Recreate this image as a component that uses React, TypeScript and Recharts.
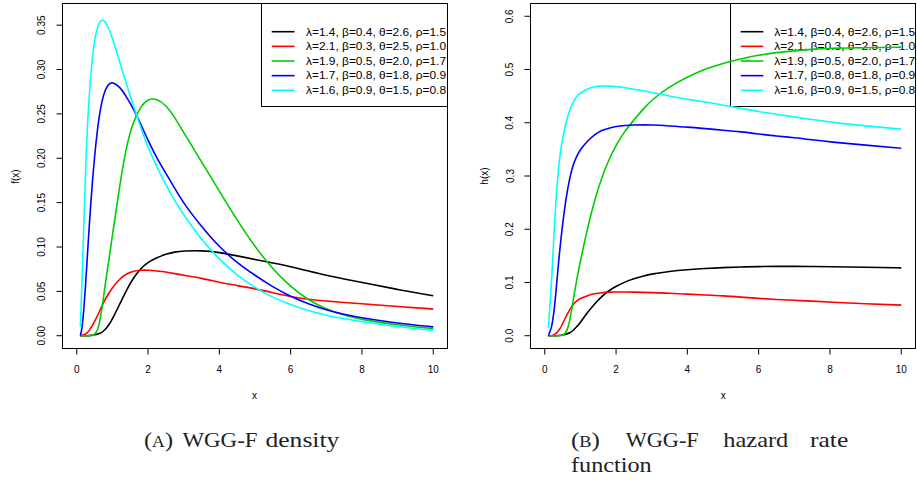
import React from 'react';
import { LineChart, Line, XAxis, YAxis, ReferenceArea } from 'recharts';

// sample positions on the x axis
const xs = [0.1, 0.15, 0.2, 0.25, 0.3, 0.4, 0.5, 0.6, 0.7, 0.8, 0.9, 1.0, 1.2, 1.4, 1.6, 1.8, 2.0, 2.25, 2.5, 2.75, 3.0, 3.5, 4.0, 4.5, 5.0, 5.5, 6.0, 6.5, 7.0, 7.5, 8.0, 9.0, 10.0];

// (A) density values
const fBlack = [0, 0, 0, 0, 0, 0.0003, 0.001, 0.002, 0.0035, 0.007, 0.012, 0.019, 0.035, 0.052, 0.066, 0.076, 0.083, 0.088, 0.092, 0.0945, 0.0955, 0.096, 0.094, 0.09, 0.086, 0.082, 0.078, 0.073, 0.068, 0.064, 0.06, 0.052, 0.045];
const fRed = [0, 0.0003, 0.001, 0.002, 0.003, 0.009, 0.016, 0.024, 0.033, 0.041, 0.048, 0.054, 0.064, 0.07, 0.073, 0.074, 0.074, 0.073, 0.072, 0.07, 0.068, 0.065, 0.06, 0.0565, 0.053, 0.0485, 0.044, 0.041, 0.039, 0.0375, 0.036, 0.033, 0.03];
const fGreen = [0, 0, 0, 0, 0, 0, 0.001, 0.006, 0.028, 0.058, 0.085, 0.113, 0.168, 0.216, 0.243, 0.259, 0.267, 0.267, 0.26, 0.246, 0.229, 0.196, 0.163, 0.13, 0.1, 0.075, 0.055, 0.04, 0.03, 0.023, 0.018, 0.012, 0.008];
const fBlue = [0, 0.008, 0.03, 0.058, 0.092, 0.155, 0.203, 0.24, 0.264, 0.278, 0.284, 0.286, 0.281, 0.269, 0.255, 0.238, 0.22, 0.2, 0.183, 0.166, 0.149, 0.123, 0.1, 0.082, 0.068, 0.055, 0.044, 0.036, 0.029, 0.024, 0.02, 0.014, 0.01];
const fCyan = [0.01, 0.06, 0.13, 0.19, 0.24, 0.3, 0.335, 0.351, 0.357, 0.354, 0.346, 0.336, 0.309, 0.283, 0.258, 0.234, 0.212, 0.19, 0.17, 0.152, 0.136, 0.108, 0.086, 0.068, 0.054, 0.043, 0.035, 0.028, 0.023, 0.019, 0.016, 0.01, 0.006];

// (B) hazard rate values
const hBlack = [0, 0, 0, 0, 0, 0.0005, 0.001, 0.003, 0.005, 0.01, 0.017, 0.025, 0.044, 0.06, 0.074, 0.085, 0.093, 0.101, 0.107, 0.112, 0.116, 0.121, 0.124, 0.1265, 0.128, 0.129, 0.13, 0.1302, 0.1302, 0.13, 0.1295, 0.1285, 0.1275];
const hRed = [0, 0, 0.0005, 0.001, 0.003, 0.01, 0.022, 0.037, 0.049, 0.059, 0.066, 0.07, 0.0755, 0.079, 0.081, 0.082, 0.0822, 0.0822, 0.082, 0.0815, 0.081, 0.08, 0.078, 0.0765, 0.075, 0.0725, 0.07, 0.068, 0.0665, 0.065, 0.063, 0.06, 0.0575];
const hGreen = [0, 0, 0, 0, 0, 0, 0, 0.005, 0.025, 0.068, 0.107, 0.14, 0.203, 0.255, 0.298, 0.331, 0.358, 0.385, 0.405, 0.425, 0.443, 0.468, 0.486, 0.501, 0.512, 0.52, 0.527, 0.532, 0.535, 0.538, 0.54, 0.541, 0.542];
const hBlue = [0, 0.008, 0.018, 0.04, 0.07, 0.149, 0.21, 0.26, 0.297, 0.322, 0.338, 0.35, 0.366, 0.378, 0.386, 0.39, 0.393, 0.395, 0.396, 0.396, 0.396, 0.394, 0.392, 0.389, 0.386, 0.383, 0.379, 0.375, 0.372, 0.368, 0.364, 0.358, 0.352];
const hCyan = [0.014, 0.06, 0.11, 0.18, 0.245, 0.33, 0.372, 0.403, 0.424, 0.44, 0.45, 0.456, 0.464, 0.468, 0.469, 0.469, 0.468, 0.466, 0.463, 0.46, 0.457, 0.45, 0.444, 0.439, 0.433, 0.427, 0.421, 0.416, 0.411, 0.406, 0.401, 0.394, 0.388];

const seriesLabels = [
  'λ=1.4, β=0.4, θ=2.6, ρ=1.5',
  'λ=2.1, β=0.3, θ=2.5, ρ=1.0',
  'λ=1.9, β=0.5, θ=2.0, ρ=1.7',
  'λ=1.7, β=0.8, θ=1.8, ρ=0.9',
  'λ=1.6, β=0.9, θ=1.5, ρ=0.8',
];
const seriesColors = ['#000000', '#FF0000', '#00CD00', '#0000FF', '#00FFFF'];
const seriesKeys = ['s0', 's1', 's2', 's3', 's4'];

const xTicks = [0, 2, 4, 6, 8, 10];
const xDomain = [-0.4, 10.4];
const fTicks = [0, 0.05, 0.1, 0.15, 0.2, 0.25, 0.3, 0.35];
const fDomain = [-0.0144, 0.3744];
const hTicks = [0, 0.1, 0.2, 0.3, 0.4, 0.5, 0.6];
const hDomain = [-0.024, 0.624];

const fSeries = [fBlack, fRed, fGreen, fBlue, fCyan];
const hSeries = [hBlack, hRed, hGreen, hBlue, hCyan];

const buildData = (series: number[][]) =>
  xs.map((x, i) => {
    const row: Record<string, number> = { x };
    series.forEach((s, k) => {
      row[seriesKeys[k]] = s[i];
    });
    return row;
  });

const fData = buildData(fSeries);
const hData = buildData(hSeries);

const SANS = '"Liberation Sans", Arial, Helvetica, sans-serif';
const SERIF = '"Liberation Serif", "Times New Roman", serif';

const XTick = (props: any) => {
  const { x, y, payload } = props;
  return (
    <text x={x} y={y + 16.4} textAnchor="middle" fontSize={10} fontFamily={SANS} fill="#000">
      {String(payload.value)}
    </text>
  );
};

const makeYTick = (digits: number) => (props: any) => {
  const { x, y, payload } = props;
  const bx = x - 9;
  return (
    <text
      x={bx}
      y={y}
      transform={`rotate(-90 ${bx} ${y})`}
      textAnchor="middle"
      fontSize={10}
      fontFamily={SANS}
      fill="#000"
    >
      {Number(payload.value).toFixed(digits)}
    </text>
  );
};

const FTick = makeYTick(2);
const HTick = makeYTick(1);

type PanelProps = {
  data: Record<string, number>[];
  width: number;
  height: number;
  yAxisWidth: number;
  marginRight: number;
  yTicks: number[];
  yDomain: number[];
  tick: (p: any) => React.ReactElement;
};

const Panel = ({ data, width, height, yAxisWidth, marginRight, yTicks, yDomain, tick }: PanelProps) => (
  <LineChart width={width} height={height} data={data} margin={{ top: 3.5, right: marginRight, bottom: 0, left: 0 }}>
    <XAxis
      dataKey="x"
      type="number"
      domain={xDomain}
      ticks={xTicks}
      interval={0}
      allowDataOverflow
      height={51.5}
      tickSize={6}
      axisLine={{ stroke: '#000' }}
      tickLine={{ stroke: '#000' }}
      tick={(p: any) => <XTick {...p} />}
    />
    <YAxis
      type="number"
      domain={yDomain}
      ticks={yTicks}
      interval={0}
      allowDataOverflow
      width={yAxisWidth}
      tickSize={6}
      axisLine={{ stroke: '#000' }}
      tickLine={{ stroke: '#000' }}
      tick={(p: any) => tick(p)}
    />
    <ReferenceArea
      x1={xDomain[0]}
      x2={xDomain[1]}
      y1={yDomain[0]}
      y2={yDomain[1]}
      fill="none"
      fillOpacity={0}
      stroke="#000"
      strokeWidth={1}
      ifOverflow="visible"
    />
    {seriesKeys.map((k, i) => (
      <Line
        key={k}
        dataKey={k}
        type="basis"
        stroke={seriesColors[i]}
        strokeWidth={1.6}
        dot={false}
        activeDot={false}
        isAnimationActive={false}
      />
    ))}
  </LineChart>
);

const rowY = [31.7, 46.35, 61, 75.65, 90.3];

export default function App() {
  return (
    <div style={{ position: 'absolute', left: 0, top: 0, width: 917, height: 480, background: '#fff', overflow: 'hidden' }}>
      <svg width={917} height={480} style={{ position: 'absolute', left: 0, top: 0 }}>
        {/* legends */}
        <rect x={261.5} y={3.5} width={186} height={103} fill="none" stroke="#000" strokeWidth={1} />
        {seriesLabels.map((lab, i) => (
          <g key={'l' + i}>
            <line x1={271.7} x2={294.5} y1={rowY[i]} y2={rowY[i]} stroke={seriesColors[i]} strokeWidth={1.6} />
            <text x={306} y={rowY[i] + 3.8} fontSize={11} fontFamily={SANS} fill="#000" textLength={140} lengthAdjust="spacingAndGlyphs">
              {lab}
            </text>
          </g>
        ))}
        <rect x={730.5} y={3.5} width={185} height={103} fill="none" stroke="#000" strokeWidth={1} />
        {seriesLabels.map((lab, i) => (
          <g key={'r' + i}>
            <line x1={740.7} x2={763.3} y1={rowY[i]} y2={rowY[i]} stroke={seriesColors[i]} strokeWidth={1.6} />
            <text x={774.3} y={rowY[i] + 3.8} fontSize={11} fontFamily={SANS} fill="#000" textLength={141} lengthAdjust="spacingAndGlyphs">
              {lab}
            </text>
          </g>
        ))}
        {/* axis titles */}
        <text x={254.5} y={398.7} textAnchor="middle" fontSize={10} fontFamily={SANS} fill="#000">x</text>
        <text x={723.3} y={398.7} textAnchor="middle" fontSize={10} fontFamily={SANS} fill="#000">x</text>
        <text x={19} y={176.5} transform="rotate(-90 19 176.5)" textAnchor="middle" fontSize={10} fontFamily={SANS} fill="#000">f(x)</text>
        <text x={487.5} y={176} transform="rotate(-90 487.5 176)" textAnchor="middle" fontSize={10} fontFamily={SANS} fill="#000">h(x)</text>
        {/* captions */}
        <g fontFamily={SERIF} fontSize={22} fill="#222">
          <text x={144} y={446.7} textLength={29} lengthAdjust="spacingAndGlyphs">(<tspan fontSize={16}>A</tspan>)</text>
          <text x={182.5} y={446.7} textLength={75} lengthAdjust="spacingAndGlyphs">WGG-F</text>
          <text x={265.5} y={446.7} textLength={73.8} lengthAdjust="spacingAndGlyphs">density</text>
          <text x={571} y={446.7} textLength={29} lengthAdjust="spacingAndGlyphs">(<tspan fontSize={16}>B</tspan>)</text>
          <text x={625.7} y={446.7} textLength={73} lengthAdjust="spacingAndGlyphs">WGG-F</text>
          <text x={723.3} y={446.7} textLength={65} lengthAdjust="spacingAndGlyphs">hazard</text>
          <text x={810} y={446.7} textLength={38.3} lengthAdjust="spacingAndGlyphs">rate</text>
          <text x={571} y={472.3} textLength={80.7} lengthAdjust="spacingAndGlyphs">function</text>
        </g>
      </svg>
      <div style={{ position: 'absolute', left: 0, top: 0 }}>
        <Panel data={fData} width={460} height={400} yAxisWidth={62.5} marginRight={12.5} yTicks={fTicks} yDomain={fDomain} tick={FTick} />
      </div>
      <div style={{ position: 'absolute', left: 460, top: 0 }}>
        <Panel data={hData} width={457} height={400} yAxisWidth={70.5} marginRight={1.5} yTicks={hTicks} yDomain={hDomain} tick={HTick} />
      </div>
    </div>
  );
}
